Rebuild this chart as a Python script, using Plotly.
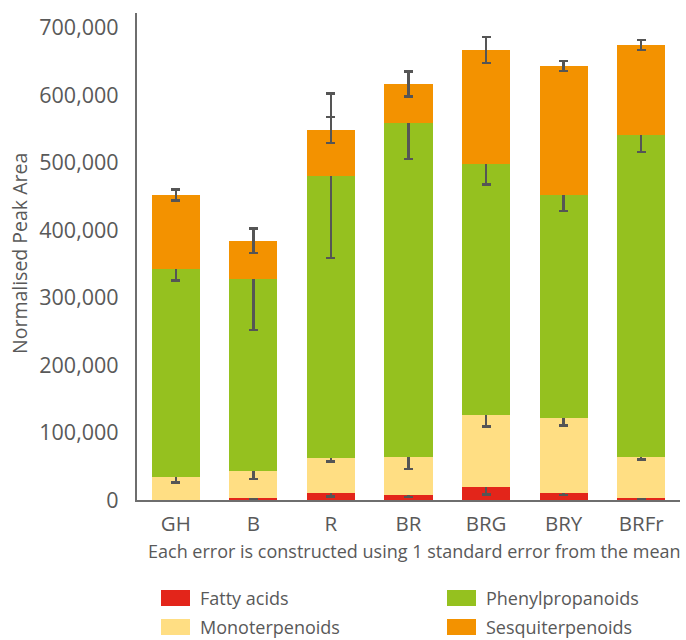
import plotly.graph_objects as go

# ---- data ----
categories = ["GH", "B", "R", "BR", "BRG", "BRY", "BRFr"]
series_names = ["Fatty acids", "Monoterpenoids", "Phenylpropanoids", "Sesquiterpenoids"]
fatty_acids = [0, 3400, 10800, 7900, 19700, 10800, 3400]
monoterpenoids = [33500, 40000, 51900, 56200, 106700, 111100, 60700]
phenylpropanoids = [309200, 284400, 418200, 494400, 372300, 330400, 477100]
sesquiterpenoids = [109600, 56300, 67700, 58200, 168400, 191100, 133400]
fatty_err = [0, 2000, 5900, 3700, 11300, 3200, 1500]
mono_err = [7500, 12000, 5500, 18500, 17300, 11600, 4400]
phenyl_err = [17000, 75600, 122000, 53300, 31300, 24200, 25500]
sesqui_err = [8400, 17800, 19500, 18500, 19500, 7600, 7400]
colors = ["#E3251A", "#FFDE83", "#95C11F", "#F39200"]
y_ticks = [0, 100000, 200000, 300000, 400000, 500000, 600000, 700000]
note = "Each error is constructed using 1 standard error from the mean"
y_title = "Normalised Peak Area"

values = [fatty_acids, monoterpenoids, phenylpropanoids, sesquiterpenoids]
errors = [fatty_err, mono_err, phenyl_err, sesqui_err]

W, H = 686, 640
ML, MR, MT, MB = 137, 6, 13, 140
PW, PH = W - ML - MR, H - MT - MB
FONT = "Open Sans"
TXT = "#595959"
ERR = "#555555"


def px_x(p):
    return (p - ML) / PW


def px_y(p):
    return (H - MB - p) / PH


fig = go.Figure()
for name, vals, errs, col in zip(series_names, values, errors, colors):
    fig.add_trace(go.Bar(
        x=categories, y=vals, name=name, marker=dict(color=col, line=dict(width=0)),
        error_y=dict(type="data", array=errs, visible=True, color=ERR, thickness=2.5, width=4.5),
        showlegend=False,
    ))

# legend (manual, to match swatch shape)
legend_layout = [(0, 161, 598), (2, 447, 598), (1, 161, 627), (3, 447, 627)]
shapes = []
annotations = []
for idx, sx, sy in legend_layout:
    shapes.append(dict(type="rect", xref="paper", yref="paper",
                       x0=px_x(sx), x1=px_x(sx + 29), y0=px_y(sy + 8), y1=px_y(sy - 8),
                       fillcolor=colors[idx], line=dict(width=0)))
    annotations.append(dict(text=series_names[idx], xref="paper", yref="paper",
                            x=px_x(sx + 37), y=px_y(sy), xanchor="left", yanchor="middle",
                            showarrow=False, font=dict(family=FONT, size=18, color=TXT)))

annotations.append(dict(text=note, xref="paper", yref="paper", x=px_x(414), y=px_y(551),
                        xanchor="center", yanchor="middle", showarrow=False,
                        font=dict(family=FONT, size=18, color=TXT)))
annotations.append(dict(text=y_title, xref="paper", yref="paper", x=px_x(20), y=px_y(254),
                        xanchor="center", yanchor="middle", textangle=-90, showarrow=False,
                        font=dict(family=FONT, size=19.5, color=TXT)))

fig.update_layout(
    width=W, height=H, margin=dict(l=ML, r=MR, t=MT, b=MB),
    barmode="stack", bargap=0.38,
    plot_bgcolor="white", paper_bgcolor="white",
    font=dict(family=FONT, color=TXT),
    shapes=shapes, annotations=annotations,
    xaxis=dict(showline=True, linecolor="#6e6e6e", linewidth=2.2, showgrid=False,
               ticks="", tickfont=dict(size=20.5, color=TXT), ticklabelstandoff=4),
    yaxis=dict(range=[0, 722000], showline=True, linecolor="#6e6e6e", linewidth=2.2,
               showgrid=False, zeroline=False, ticks="", tickvals=y_ticks,
               ticktext=[f"{v:,}" for v in y_ticks], tickfont=dict(size=21.5, color=TXT),
               ticklabelstandoff=12),
)

fig.write_html("out.html", config={"displayModeBar": False},
               post_script="document.body.style.margin='0px';")
